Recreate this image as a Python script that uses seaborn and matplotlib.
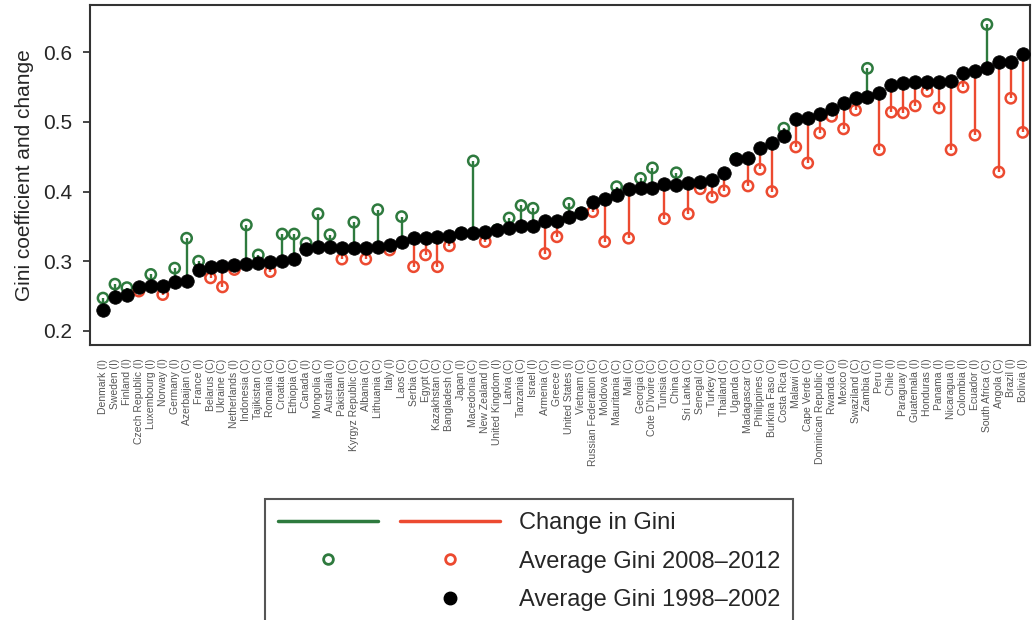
import numpy as np
import pandas as pd
import matplotlib
matplotlib.use("Agg")
import matplotlib.pyplot as plt
from matplotlib.lines import Line2D
from matplotlib.legend_handler import HandlerTuple
import seaborn as sns

# Gini coefficients
countries = [
    "Denmark (I)", "Sweden (I)", "Finland (I)", "Czech Republic (I)", "Luxembourg (I)",
    "Norway (I)", "Germany (I)", "Azerbaijan (C)", "France (I)", "Belarus (C)",
    "Ukraine (C)", "Netherlands (I)", "Indonesia (C)", "Tajikistan (C)", "Romania (C)",
    "Croatia (C)", "Ethiopia (C)", "Canada (I)", "Mongolia (C)", "Australia (I)",
    "Pakistan (C)", "Kyrgyz Republic (C)", "Albania (C)", "Lithuania (C)", "Italy (I)",
    "Laos (C)", "Serbia (C)", "Egypt (C)", "Kazakhstan (C)", "Bangladesh (C)",
    "Japan (I)", "Macedonia (C)", "New Zealand (I)", "United Kingdom (I)", "Latvia (C)",
    "Tanzania (C)", "Israel (I)", "Armenia (C)", "Greece (I)", "United States (I)",
    "Vietnam (C)", "Russian Federation (C)", "Moldova (C)", "Mauritania (C)", "Mali (C)",
    "Georgia (C)", "Cote D'Ivoire (C)", "Tunisia (C)", "China (C)", "Sri Lanka (C)",
    "Senegal (C)", "Turkey (C)", "Thailand (C)", "Uganda (C)", "Madagascar (C)",
    "Philippines (C)", "Burkina Faso (C)", "Costa Rica (I)", "Malawi (C)", "Cape Verde (C)",
    "Dominican Republic (I)", "Rwanda (C)", "Mexico (I)", "Swaziland (C)", "Zambia (C)",
    "Peru (I)", "Chile (I)", "Paraguay (I)", "Guatemala (I)", "Honduras (I)",
    "Panama (I)", "Nicaragua (I)", "Colombia (I)", "Ecuador (I)", "South Africa (C)",
    "Angola (C)", "Brazil (I)", "Bolivia (I)",
]

gini_1998 = [
    0.230, 0.249, 0.252, 0.263, 0.265, 0.265, 0.270, 0.272, 0.287, 0.292,
    0.293, 0.295, 0.296, 0.298, 0.299, 0.300, 0.303, 0.318, 0.320, 0.320,
    0.319, 0.319, 0.319, 0.320, 0.323, 0.327, 0.333, 0.333, 0.335, 0.336,
    0.340, 0.340, 0.342, 0.345, 0.347, 0.351, 0.351, 0.358, 0.358, 0.364,
    0.369, 0.385, 0.390, 0.395, 0.403, 0.405, 0.405, 0.411, 0.410, 0.412,
    0.413, 0.417, 0.427, 0.447, 0.448, 0.462, 0.470, 0.480, 0.504, 0.506,
    0.511, 0.518, 0.527, 0.534, 0.536, 0.541, 0.553, 0.556, 0.557, 0.557,
    0.557, 0.559, 0.570, 0.573, 0.577, 0.586, 0.586, 0.597,
]

gini_2008 = [
    0.247, 0.267, 0.262, 0.257, 0.281, 0.252, 0.290, 0.333, 0.300, 0.276,
    0.263, 0.288, 0.352, 0.309, 0.285, 0.339, 0.339, 0.326, 0.368, 0.338,
    0.303, 0.356, 0.303, 0.374, 0.316, 0.364, 0.292, 0.309, 0.292, 0.322,
    0.340, 0.444, 0.328, 0.345, 0.362, 0.380, 0.376, 0.311, 0.335, 0.383,
    0.369, 0.371, 0.328, 0.407, 0.333, 0.419, 0.434, 0.361, 0.427, 0.368,
    0.404, 0.392, 0.401, 0.447, 0.408, 0.432, 0.400, 0.491, 0.464, 0.441,
    0.484, 0.508, 0.490, 0.517, 0.577, 0.460, 0.514, 0.513, 0.523, 0.544,
    0.520, 0.460, 0.550, 0.481, 0.640, 0.428, 0.534, 0.485,
]

GREEN = "#2e7a3e"
RED = "#ec4a30"

df = pd.DataFrame({"country": countries, "g1998": gini_1998, "g2008": gini_2008})
df["pos"] = np.arange(len(df))
df["up"] = df["g2008"] >= df["g1998"]

sns.set_theme(style="ticks")
plt.rcParams["font.family"] = ["Liberation Sans", "DejaVu Sans"]

fig = plt.figure(figsize=(10.33, 6.2), dpi=100)
ax = fig.add_axes([0.087, 0.444, 0.91, 0.548])

# change lines
line_colors = [GREEN if u else RED for u in df["up"]]
ax.vlines(df["pos"], df["g1998"], df["g2008"], colors=line_colors, linewidth=1.7, zorder=1)

# open circles for 2008-2012
up = df[df["up"]]
down = df[~df["up"]]
sns.scatterplot(data=up, x="pos", y="g2008", ax=ax, marker="o", s=55,
                color=GREEN, facecolor="none", edgecolor=GREEN, linewidth=1.8, zorder=2)
sns.scatterplot(data=down, x="pos", y="g2008", ax=ax, marker="o", s=55,
                color=RED, facecolor="none", edgecolor=RED, linewidth=1.8, zorder=2)

# filled black dots for 1998-2002
sns.scatterplot(data=df, x="pos", y="g1998", ax=ax, marker="o", s=95,
                color="black", edgecolor="black", linewidth=0.5, zorder=3)

ax.set_xlim(-1.1, 77.6)
ax.set_ylim(0.18, 0.668)
ax.set_yticks([0.2, 0.3, 0.4, 0.5, 0.6])
ax.set_yticklabels(["0.2", "0.3", "0.4", "0.5", "0.6"], fontsize=15)
ax.set_xticks(df["pos"])
ax.set_xticklabels(df["country"], rotation=90, fontsize=7.5, color="#555555")
ax.tick_params(axis="x", length=0, pad=10)
ax.tick_params(axis="y", length=5, width=1.2, pad=8)
ax.set_xlabel("")
ax.set_ylabel("Gini coefficient and change", fontsize=15, labelpad=6)
for sp in ax.spines.values():
    sp.set_linewidth(1.5)
    sp.set_color("#333333")

# legend
h_line_g = Line2D([], [], color=GREEN, linewidth=2.5)
h_line_r = Line2D([], [], color=RED, linewidth=2.5)
h_pt_g = Line2D([], [], color=GREEN, marker="o", markerfacecolor="none",
                markeredgewidth=2, markersize=7, linestyle="none")
h_pt_r = Line2D([], [], color=RED, marker="o", markerfacecolor="none",
                markeredgewidth=2, markersize=7, linestyle="none")
h_blank = Line2D([], [], linestyle="none", marker="none")
h_pt_k = Line2D([], [], color="black", marker="o", markersize=9, linestyle="none")

fig.legend(
    [(h_line_g, h_line_r), (h_pt_g, h_pt_r), (h_blank, h_pt_k)],
    ["Change in Gini", "Average Gini 2008\u20132012", "Average Gini 1998\u20132002"],
    handler_map={tuple: HandlerTuple(ndivide=None, pad=0.9)},
    loc="upper left", bbox_to_anchor=(265 / 1033, 1 - 499 / 620), borderaxespad=0,
    fontsize=17, handlelength=9.4, handletextpad=0.8, labelspacing=0.7,
    borderpad=0.55, fancybox=False, edgecolor="#555555", framealpha=1,
).get_frame().set_linewidth(1.5)

fig.savefig("out.png", dpi=100)
